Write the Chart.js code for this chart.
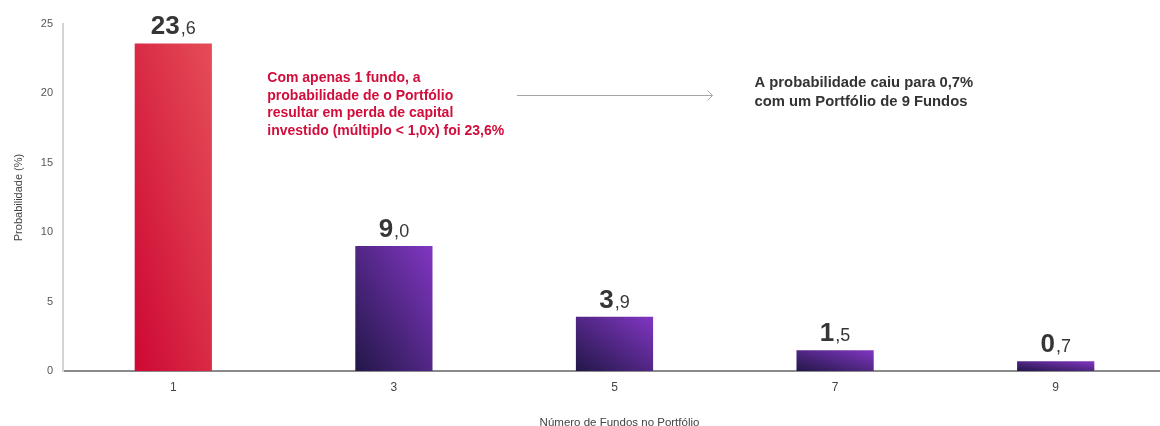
<!DOCTYPE html>
<html><head><meta charset="utf-8">
<script src="https://cdn.jsdelivr.net/npm/chart.js@4/dist/chart.umd.min.js"></script>
<style>html,body{margin:0;padding:0;overflow:hidden;background:#fff}#wrap{width:1166px;height:426px}</style>
</head><body><div id="wrap"><canvas id="c" width="1166" height="426"></canvas></div>
<script>
const categories = ['1', '3', '5', '7', '9'];
const probabilities = [23.6, 9.0, 3.9, 1.5, 0.7];
const yTickValues = [0, 5, 10, 15, 20, 25];
const barGradients = [
  ['#cd0834', '#e54d57'],
  ['#221748', '#8136c2'],
  ['#221748', '#8136c2'],
  ['#221748', '#8136c2'],
  ['#221748', '#8136c2']
];
const noteLeft = ['Com apenas 1 fundo, a', 'probabilidade de o Portfólio', 'resultar em perda de capital', 'investido (múltiplo < 1,0x) foi 23,6%'];
const noteRight = ['A probabilidade caiu para 0,7%', 'com um Portfólio de 9 Fundos'];
const xTitle = 'Número de Fundos no Portfólio';
const yTitle = 'Probabilidade (%)';

const FONT = "'Liberation Sans', Arial, sans-serif";
const BAR_PCT = 0.35;
Chart.defaults.font.family = FONT;

function barGradient(ctx) {
  const chart = ctx.chart;
  const i = ctx.dataIndex;
  const xs = chart.scales.x, ys = chart.scales.y;
  if (!chart.chartArea || !xs || !ys || i === undefined) return barGradients[0][0];
  const w = xs.width / categories.length * BAR_PCT;
  const cxp = xs.getPixelForValue(i);
  const t = ys.getPixelForValue(probabilities[i]);
  const b = ys.getPixelForValue(0);
  if (!isFinite(cxp) || !isFinite(t) || !isFinite(b)) return barGradients[i][0];
  const h = Math.max(b - t, 1);
  const l = cxp - w / 2;
  const L2 = w * w + h * h;
  const ex = l + 2 * w * h * h / L2;
  const ey = b - 2 * w * w * h / L2;
  const g = chart.ctx.createLinearGradient(l, b, ex, ey);
  g.addColorStop(0, barGradients[i][0]);
  g.addColorStop(1, barGradients[i][1]);
  return g;
}

const labelsPlugin = {
  id: 'labels',
  afterDatasetsDraw(chart) {
    const c = chart.ctx;
    const meta = chart.getDatasetMeta(0);
    c.save();
    c.fillStyle = '#363636';
    c.textBaseline = 'alphabetic';
    c.textAlign = 'left';
    meta.data.forEach((el, i) => {
      const parts = probabilities[i].toFixed(1).split('.');
      const a = parts[0], d = ',' + parts[1];
      c.font = 'bold 26px ' + FONT;
      const wa = c.measureText(a).width;
      c.font = '18px ' + FONT;
      const wd = c.measureText(d).width;
      const gap = 1;
      let x = el.x - (wa + gap + wd) / 2;
      const y = el.y - 9;
      c.font = 'bold 26px ' + FONT;
      c.fillText(a, x, y);
      c.font = '18px ' + FONT;
      c.fillText(d, x + wa + gap, y);
    });

    const xs = chart.scales.x;
    const area = chart.chartArea;
    // x axis title
    c.font = '11.5px ' + FONT;
    c.fillStyle = '#444';
    c.textAlign = 'center';
    c.textBaseline = 'middle';
    c.fillText(xTitle, (xs.getPixelForValue(2) + 5), area.bottom + 52);
    c.textAlign = 'left';
    // left note
    c.font = 'bold 14px ' + FONT;
    c.fillStyle = '#d10d3b';
    const lx = xs.getPixelForValue(0) + 94;
    const ly = area.top + 54;
    noteLeft.forEach((s, k) => c.fillText(s, lx, ly + k * 17.8));
    // arrow
    const ax1 = xs.getPixelForValue(1) + 123, ax2 = xs.getPixelForValue(2) + 98;
    const ay = area.top + 71;
    c.strokeStyle = '#a6a6a6';
    c.lineWidth = 1;
    c.beginPath();
    c.moveTo(ax1, ay + 0.5); c.lineTo(ax2, ay + 0.5);
    c.moveTo(ax2 - 5, ay - 4.5); c.lineTo(ax2, ay + 0.5); c.lineTo(ax2 - 5, ay + 5.5);
    c.stroke();
    // right note
    c.font = 'bold 14.8px ' + FONT;
    c.fillStyle = '#333333';
    const rx = xs.getPixelForValue(2) + 140;
    const ry = area.top + 59;
    noteRight.forEach((s, k) => c.fillText(s, rx, ry + k * 18.7));
    c.restore();
  }
};

new Chart(document.getElementById('c'), {
  type: 'bar',
  data: {
    labels: categories,
    datasets: [{
      data: probabilities,
      backgroundColor: barGradient,
      borderWidth: 0,
      barPercentage: BAR_PCT,
      categoryPercentage: 1
    }]
  },
  options: {
    responsive: false,
    animation: false,
    layout: { padding: { top: 24, left: 0, right: 0, bottom: 0 } },
    plugins: { legend: { display: false }, tooltip: { enabled: false } },
    scales: {
      x: {
        grid: { display: false, drawTicks: false },
        border: { display: true, color: '#8a8a8a', width: 2 },
        ticks: { color: '#444', font: { size: 12 }, padding: 9 },
        title: { display: false },
        afterFit(s) { s.height = 55; }
      },
      y: {
        min: 0, max: 25,
        afterBuildTicks(s) { s.ticks = yTickValues.map(v => ({ value: v })); },
        grid: { display: false, drawTicks: false },
        border: { display: true, color: '#d4d4d4', width: 2 },
        ticks: { color: '#555', font: { size: 11 }, padding: 10 },
        title: { display: true, text: yTitle, color: '#444', font: { size: 11 }, padding: { top: 12, bottom: 0 } },
        afterFit(s) { s.width = 63; }
      }
    }
  },
  plugins: [labelsPlugin]
});
</script>
</body></html>
